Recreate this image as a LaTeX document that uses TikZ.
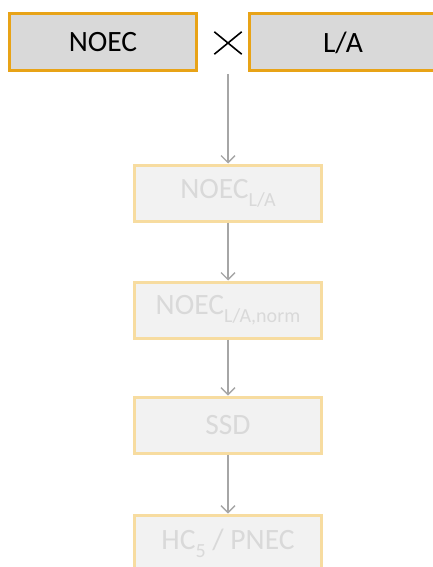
\documentclass[tikz,border=0pt]{standalone}
\usepackage{fontspec}
\setmainfont{Carlito}
\usetikzlibrary{arrows.meta}
\definecolor{topfill}{HTML}{D9D9D9}
\definecolor{topborder}{HTML}{E8A317}
\definecolor{lowfill}{HTML}{F2F2F2}
\definecolor{lowborder}{HTML}{F7DCA0}
\definecolor{lowtext}{HTML}{D9D9D9}
\definecolor{arrowgray}{HTML}{A6A6A6}
\newcommand{\mysub}[1]{\raisebox{-8pt}{\fontsize{20pt}{20pt}\selectfont #1}}
\tikzset{
  x=1pt, y=-1pt,
  topbox/.style={draw=topborder, line width=3pt, fill=topfill, minimum width=187pt, minimum height=57pt, inner sep=0pt, font=\fontsize{29.5pt}{31pt}\selectfont, text=black},
  lowbox/.style={draw=lowborder, line width=3pt, fill=lowfill, minimum width=187pt, minimum height=56pt, inner sep=0pt, font=\fontsize{29.5pt}{31pt}\selectfont, text=lowtext},
  crossbox/.style={minimum width=27pt, minimum height=22pt, inner sep=0pt},
  crossline/.style={draw=black, line width=1.6pt},
  flow/.style={draw=arrowgray, line width=1.4pt, -{Straight Barb[length=7pt, width=14pt, line width=1.4pt]}}
}
\begin{document}
\begin{tikzpicture}
\useasboundingbox (0,0) rectangle (432,567);
\node[topbox] (noec) at (103,42.5) {NOEC};
\node[topbox] (la) at (343,42.5) {L/A};
\node[crossbox] (times) at (228,43) {};
\draw[crossline] (times.north west) -- (times.south east);
\draw[crossline] (times.north east) -- (times.south west);
\coordinate (start) at (228,74);
\node[lowbox] (n1) at (228,193) {NOEC\mysub{L/A}};
\node[lowbox] (n2) at (228,310) {NOEC\mysub{L/A,norm}};
\node[lowbox] (n3) at (228,425) {SSD};
\node[lowbox] (n4) at (228,543) {HC\mysub{5} / PNEC};
\draw[flow] (start) -- (n1.north);
\draw[flow] (n1) -- (n2);
\draw[flow] (n2) -- (n3);
\draw[flow] (n3) -- (n4);
\end{tikzpicture}
\end{document}
